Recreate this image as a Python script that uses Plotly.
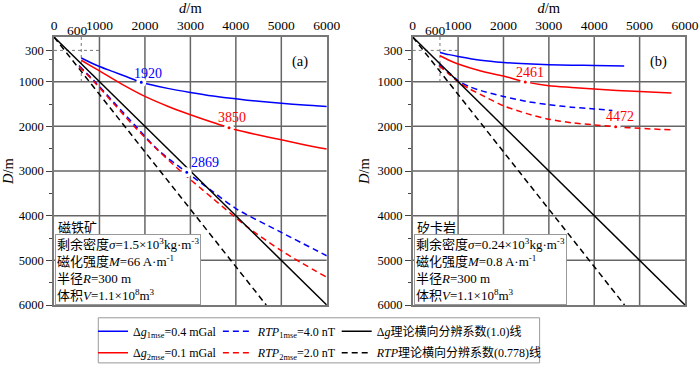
import plotly.graph_objects as go

# ---------------- data ----------------
tick_d = [0, 1000, 2000, 3000, 4000, 5000, 6000]
tick_D = [300, 1000, 2000, 3000, 4000, 5000, 6000]
minor_D = [500, 1500, 2500, 3500, 4500, 5500]
grid_vals = [1000, 2000, 3000, 4000, 5000]

theory_solid_d = [0, 6000]
theory_solid_D = [0, 6000]
theory_dash_d = [0, 4668]
theory_dash_D = [0, 6000]

# panel (a) 磁铁矿
a_blue_solid_d = [600, 800, 1000, 1300, 1600, 1920, 2500, 3000, 3500, 4000, 4500, 5000, 5500, 6000]
a_blue_solid_D = [470, 570, 660, 775, 890, 1015, 1150, 1240, 1320, 1385, 1440, 1485, 1525, 1556]
a_red_solid_d = [600, 800, 1000, 1500, 2000, 2500, 3000, 3500, 3850, 4000, 4500, 5000, 5500, 6000]
a_red_solid_D = [520, 640, 760, 1060, 1330, 1550, 1740, 1915, 2030, 2078, 2195, 2300, 2410, 2510]
a_blue_dash_d = [550, 900, 1350, 1800, 2300, 2920, 3500, 4000, 5000, 6000]
a_blue_dash_D = [640, 1000, 1500, 2000, 2540, 3030, 3465, 3840, 4375, 4897]
a_red_dash_d = [550, 880, 1320, 1760, 2250, 2780, 3500, 4220, 5000, 6000]
a_red_dash_D = [660, 1000, 1500, 2000, 2500, 3000, 3620, 4227, 4785, 5380]

# panel (b) 矽卡岩
b_blue_solid_d = [600, 800, 1000, 1500, 2000, 2500, 3000, 3500, 4000, 4660]
b_blue_solid_D = [345, 395, 435, 520, 570, 600, 620, 630, 638, 650]
b_red_solid_d = [600, 800, 1000, 1500, 2000, 2480, 3000, 3500, 4000, 4500, 5000, 5700]
b_red_solid_D = [420, 520, 605, 760, 875, 1005, 1090, 1130, 1165, 1195, 1218, 1255]
b_blue_dash_d = [578, 800, 1000, 1250, 1500, 2000, 2500, 3000, 3500, 4000, 4400]
b_blue_dash_D = [620, 800, 980, 1110, 1200, 1330, 1440, 1515, 1570, 1610, 1645]
b_red_dash_d = [578, 800, 1000, 1250, 1500, 2000, 2500, 3000, 3500, 4000, 4472, 5000, 5700]
b_red_dash_D = [640, 830, 1000, 1160, 1290, 1540, 1710, 1840, 1920, 1967, 2010, 2045, 2080]

# marked points
marks_d = [1920, 3850, 2920, 2480, 4472]
marks_D = [1015, 2030, 3030, 1005, 2010]
marks_label = ["1920", "3850", "2869", "2461", "4472"]
marks_color = ["#0000ff", "#ff0000", "#0000ff", "#ff0000", "#ff0000"]
marks_panel = ["a", "a", "a", "b", "b"]
label_d = [2070, 3915, 3320, 2576, 4570]
label_D = [820, 1810, 2818, 785, 1780]

legend_names = {
    "g1": "Δ<i>g</i><sub>1mse</sub>=0.4 mGal",
    "g2": "Δ<i>g</i><sub>2mse</sub>=0.1 mGal",
    "r1": "<i>RTP</i><sub>1mse</sub>=4.0 nT",
    "r2": "<i>RTP</i><sub>2mse</sub>=2.0 nT",
    "t1": "Δ<i>g</i>理论横向分辨系数(1.0)线",
    "t2": "<i>RTP</i>理论横向分辨系数(0.778)线",
}

box_a = ("剩余密度<i>σ</i>=1.5×10<sup>3</sup>kg·m<sup>-3</sup><br>"
         "磁化强度<i>M</i>=66 A·m<sup>-1</sup><br>"
         "半径<i>R</i>=300 m<br>"
         "体积<i>V</i>=1.1×10<sup>8</sup>m<sup>3</sup>")
box_b = ("剩余密度<i>σ</i>=0.24×10<sup>3</sup>kg·m<sup>-3</sup><br>"
         "磁化强度<i>M</i>=0.8 A·m<sup>-1</sup><br>"
         "半径<i>R</i>=300 m<br>"
         "体积<i>V</i>=1.1×10<sup>8</sup>m<sup>3</sup>")

FONT = "Liberation Serif, Noto Sans CJK SC, serif"
BLUE = "#0000ff"
RED = "#ff0000"
LW = 1.5
DASH = "6px,4px"

fig = go.Figure()

def add(d, D, color, dash, xa, ya, name=None, legend=None, show=False):
    fig.add_trace(go.Scatter(
        x=d, y=D, mode="lines", xaxis=xa, yaxis=ya,
        line=dict(color=color, width=LW, dash=dash, shape="spline", smoothing=0.8),
        name=name, showlegend=show, legend=legend, hoverinfo="skip"))

# panel a (legend entries, one legend per cell)
add(a_blue_solid_d, a_blue_solid_D, BLUE, "solid", "x", "y", legend_names["g1"], "legend", True)
add(a_red_solid_d, a_red_solid_D, RED, "solid", "x", "y", legend_names["g2"], "legend2", True)
add(a_blue_dash_d, a_blue_dash_D, BLUE, DASH, "x", "y", legend_names["r1"], "legend3", True)
add(a_red_dash_d, a_red_dash_D, RED, DASH, "x", "y", legend_names["r2"], "legend4", True)
add(theory_solid_d, theory_solid_D, "black", "solid", "x", "y", legend_names["t1"], "legend5", True)
add(theory_dash_d, theory_dash_D, "black", DASH, "x", "y", legend_names["t2"], "legend6", True)

# panel b
add(b_blue_solid_d, b_blue_solid_D, BLUE, "solid", "x2", "y2")
add(b_red_solid_d, b_red_solid_D, RED, "solid", "x2", "y2")
add(b_blue_dash_d, b_blue_dash_D, BLUE, DASH, "x2", "y2")
add(b_red_dash_d, b_red_dash_D, RED, DASH, "x2", "y2")
add(theory_solid_d, theory_solid_D, "black", "solid", "x2", "y2")
add(theory_dash_d, theory_dash_D, "black", DASH, "x2", "y2")

annotations = []
for d, D, lab, c, p, ld, lD in zip(marks_d, marks_D, marks_label, marks_color, marks_panel, label_d, label_D):
    xa, ya = ("x", "y") if p == "a" else ("x2", "y2")
    fig.add_trace(go.Scatter(
        x=[d], y=[D], mode="markers", xaxis=xa, yaxis=ya, showlegend=False,
        marker=dict(color=c, size=6.5, line=dict(color="white", width=3.5)), hoverinfo="skip"))
    annotations.append(dict(x=ld, y=lD, xref=xa, yref=ya, text=lab, showarrow=False,
                            font=dict(color=c, size=14, family=FONT)))

GRID = "#666666"
FRAME = "#777777"
shapes = []
for xr, yr in (("x", "y"), ("x2", "y2")):
    for v in grid_vals:
        shapes.append(dict(type="line", xref=xr, yref=yr, x0=v, x1=v, y0=0, y1=6000,
                           line=dict(color=GRID, width=1.5), layer="below"))
        shapes.append(dict(type="line", xref=xr, yref=yr, x0=0, x1=6000, y0=v, y1=v,
                           line=dict(color=GRID, width=1.5), layer="below"))
    shapes.append(dict(type="line", xref=xr, yref=yr, x0=600, x1=600, y0=0, y1=1000,
                       line=dict(color="#777777", width=1, dash="dot"), layer="below"))
    shapes.append(dict(type="line", xref=xr, yref=yr, x0=0, x1=1000, y0=300, y1=300,
                       line=dict(color="#777777", width=1, dash="dot"), layer="below"))
    annotations.append(dict(x=600, y=1.0, xref=xr, yref=yr + " domain", xshift=-4, yshift=-3,
                            text="600", showarrow=False, yanchor="bottom",
                            font=dict(size=13.5, family=FONT, color="black")))

# legend frame
shapes.append(dict(type="rect", xref="paper", yref="paper", x0=0.0702, x1=0.7696, y0=-0.216, y1=-0.0477,
                   line=dict(color="#999999", width=1), fillcolor="rgba(0,0,0,0)"))

# panel labels & info boxes
for xr, yr, tag, name, box in (("x", "y", "(a)", "磁铁矿", box_a), ("x2", "y2", "(b)", "矽卡岩", box_b)):
    annotations.append(dict(x=0.94, y=0.946, xref=xr + " domain", yref=yr + " domain", text=tag,
                            showarrow=False, font=dict(size=14.5, family=FONT, color="black")))
    annotations.append(dict(x=0.008, y=0.289, xref=xr + " domain", yref=yr + " domain", text=name,
                            showarrow=False, xanchor="left", yanchor="middle",
                            font=dict(size=13, family=FONT, color="black")))
    annotations.append(dict(x=0.004, y=0.0, xref=xr + " domain", yref=yr + " domain", text=box,
                            showarrow=False, xanchor="left", yanchor="bottom", align="left",
                            bgcolor="white", bordercolor="#999999", borderwidth=1, borderpad=1,
                            font=dict(size=13, family=FONT, color="black")))

def xaxis(domain, anchor):
    return dict(domain=domain, anchor=anchor, side="top", range=[0, 6000],
                tickmode="array", tickvals=tick_d, ticktext=[str(v) for v in tick_d],
                showgrid=False, zeroline=False, showline=True, mirror=True,
                linecolor=FRAME, linewidth=1.5, ticks="",
                tickfont=dict(size=13.5, family=FONT, color="black"),
                title=dict(text="<i>d</i>/m", font=dict(size=14.5, family=FONT, color="black"), standoff=2))

def yaxis(anchor):
    return dict(domain=[0, 1], anchor=anchor, range=[6000, 0],
                tickmode="array", tickvals=tick_D, ticktext=[str(v) for v in tick_D],
                showgrid=False, zeroline=False, showline=True, mirror=True,
                linecolor=FRAME, linewidth=1.5, ticks="outside", ticklen=6, tickcolor="#444",
                minor=dict(tickmode="array", tickvals=minor_D,
                           ticks="outside", ticklen=3, tickcolor="#444", showgrid=False),
                tickfont=dict(size=12.5, family=FONT, color="black"),
                title=dict(text="<i>D</i>/m", font=dict(size=14.5, family=FONT, color="black"), standoff=4))

legend_common = dict(orientation="v", xanchor="left", yanchor="middle", bgcolor="rgba(0,0,0,0)",
                     borderwidth=0, font=dict(size=12, family=FONT, color="black"),
                     itemwidth=30)

row1 = -0.0977
row2 = -0.178
cols = [0.0618, 0.2597, 0.448]

fig.update_layout(
    width=700, height=365,
    margin=dict(l=54, r=14.5, t=37.3, b=59.5, autoexpand=False),
    paper_bgcolor="white", plot_bgcolor="white",
    font=dict(family=FONT, color="black"),
    xaxis=xaxis([0, 0.4323], "y"),
    yaxis=yaxis("x"),
    xaxis2=xaxis([0.5685, 1], "y2"),
    yaxis2=yaxis("x2"),
    legend=dict(x=cols[0], y=row1, **legend_common),
    legend2=dict(x=cols[0], y=row2, **legend_common),
    legend3=dict(x=cols[1], y=row1, **legend_common),
    legend4=dict(x=cols[1], y=row2, **legend_common),
    legend5=dict(x=cols[2], y=row1, **legend_common),
    legend6=dict(x=cols[2], y=row2, **legend_common),
    shapes=shapes,
    annotations=annotations,
)

fig.write_html("out.html", config={"displayModeBar": False},
               post_script="document.body.style.margin='0px';")
